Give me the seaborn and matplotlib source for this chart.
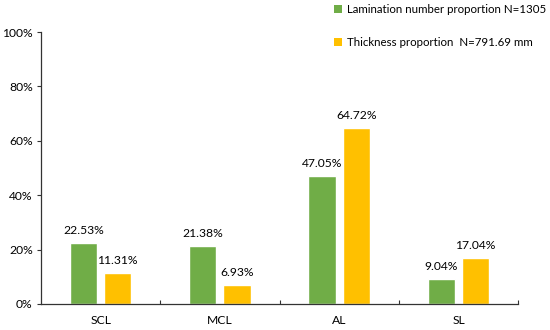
import pandas as pd
import seaborn as sns
import matplotlib.pyplot as plt
from matplotlib.patches import Patch
from matplotlib.ticker import FixedLocator, PercentFormatter

categories = ["SCL", "MCL", "AL", "SL"]
lamination = [22.53, 21.38, 47.05, 9.04]
thickness = [11.31, 6.93, 64.72, 17.04]
series_names = ["Lamination number proportion N=1305",
                "Thickness proportion  N=791.69 mm"]
colors = ["#70AD47", "#FFC000"]

df = pd.DataFrame({
    "layer": categories * 2,
    "value": lamination + thickness,
    "series": [series_names[0]] * 4 + [series_names[1]] * 4,
})

sns.set_style("white")
plt.rcParams["font.family"] = ["Lato", "DejaVu Sans"]
plt.rcParams["text.color"] = "black"

fig = plt.figure(figsize=(5.5, 3.3), dpi=100)
ax = fig.add_axes([0.0745, 0.079, 0.8675, 0.824])

sns.barplot(data=df, x="layer", y="value", hue="series", palette=colors,
            width=0.574, gap=0.2, ax=ax, legend=False, saturation=1)

for cont in ax.containers:
    ax.bar_label(cont, labels=[f"{v:.2f}%" for v in cont.datavalues],
                 padding=5, fontsize=8.7, color="black")

ax.set_ylim(0, 100)
ax.set_xlim(-0.5, 3.5)
ax.yaxis.set_major_formatter(PercentFormatter(decimals=0))
ax.set_yticks(range(0, 101, 20))
ax.set_xlabel("")
ax.set_ylabel("")
for side in ["top", "right"]:
    ax.spines[side].set_visible(False)
for side in ["left", "bottom"]:
    ax.spines[side].set_color("#333333")
    ax.spines[side].set_linewidth(0.9)

ax.tick_params(axis="y", which="major", direction="out", length=3,
               width=0.8, color="#333333", labelsize=8.7, pad=3, left=True,
               labelcolor="black")
ax.tick_params(axis="x", which="major", length=0, labelsize=8.7, pad=8,
               labelcolor="black")
ax.xaxis.set_minor_locator(FixedLocator([0.5, 1.5, 2.5, 3.5]))
ax.tick_params(axis="x", which="minor", direction="in", length=3,
               width=0.8, color="#333333", bottom=True)

handles = [Patch(facecolor=c, edgecolor="none") for c in colors]
fig.legend(handles, series_names, loc="upper left",
           bbox_to_anchor=(0.588, 1.018), frameon=False, fontsize=8.3,
           handlelength=0.7, handleheight=0.7, handletextpad=0.45,
           labelspacing=1.85)

fig.savefig("out.png", dpi=100)
